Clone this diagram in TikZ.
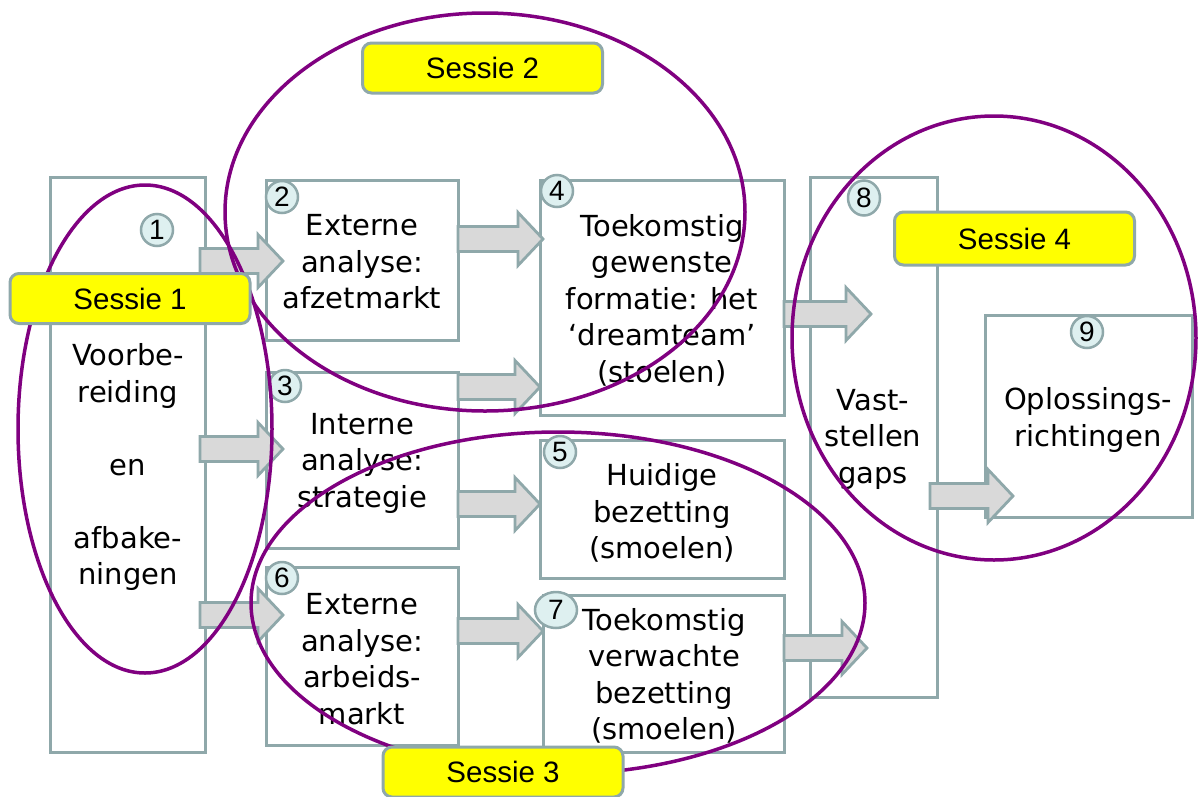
\documentclass[tikz,border=0pt]{standalone}
\usepackage{fontspec}
\setmainfont{DejaVu Sans}
\newfontfamily\arialfont{Liberation Sans}
\usetikzlibrary{calc,shapes.geometric}
\definecolor{bord}{HTML}{8FA8AA}
\definecolor{numfill}{HTML}{DEF0F0}
\definecolor{arrfill}{HTML}{D9D9D9}
\definecolor{sesyellow}{HTML}{FFFF00}
\definecolor{ringpurple}{HTML}{800080}
\newcommand\barrow[2]{%
  \draw[blockarr] ($(#1)+(0,-12.5)$) -- ($(#2)+(-25,-12.5)$) -- ($(#2)+(-25,-26.5)$)
    -- (#2) -- ($(#2)+(-25,26.5)$) -- ($(#2)+(-25,12.5)$) -- ($(#1)+(0,12.5)$) -- cycle;}
\begin{document}
\begin{tikzpicture}[x=1pt,y=-1pt,
  box/.style={draw=bord,line width=3pt,fill=white,anchor=north west,inner sep=0pt,outer sep=0pt},
  txt/.style={align=center,font=\fontsize{29}{36.5}\selectfont,inner sep=0pt},
  numc/.style={circle,draw=bord,line width=2.5pt,fill=numfill,inner sep=0pt,minimum size=32pt,font=\arialfont\fontsize{28}{28}\selectfont},
  sess/.style={rectangle,rounded corners=9pt,draw=bord,line width=3pt,fill=sesyellow,minimum width=240pt,minimum height=50pt,inner sep=0pt,font=\arialfont\fontsize{29.5}{29.5}\selectfont},
  ring/.style={draw=ringpurple,line width=3.5pt},
  blockarr/.style={draw=bord,line width=2.8pt,fill=arrfill,line join=miter},
]
\useasboundingbox (0,0) rectangle (1203,796);
\fill[white] (0,0) rectangle (1203,796);
% boxes
\node[box,minimum width=155pt,minimum height=575pt] (b1) at (50,177) {};
\node[box,minimum width=192pt,minimum height=160pt] (b2) at (266,180) {};
\node[box,minimum width=192pt,minimum height=176pt] (b3) at (266,372) {};
\node[box,minimum width=192pt,minimum height=178pt] (b6) at (266,567) {};
\node[box,minimum width=244pt,minimum height=235pt] (b4) at (540,180) {};
\node[box,minimum width=244pt,minimum height=138pt] (b5) at (540,440) {};
\node[box,minimum width=241pt,minimum height=157pt] (b7) at (543,595) {};
\node[box,minimum width=127pt,minimum height=520pt] (b8) at (810,177) {};
\node[box,minimum width=207pt,minimum height=202pt] (b9) at (985,315) {};
% texts
\node[txt] (t1) at (128,467) {Voorbe-\\reiding\\[36.5pt]en\\[36.5pt]afbake-\\ningen};
\node[txt] (t2) at (362,262) {Externe\\analyse:\\afzetmarkt};
\node[txt] (t3) at (362,463) {Interne\\analyse:\\strategie};
\node[txt] (t6) at (362,659) {Externe\\analyse:\\arbeids-\\markt};
\node[txt] (t4) at (662,300) {Toekomstig\\gewenste\\formatie: het\\‘dreamteam’\\(stoelen)};
\node[txt] (t5) at (662,513) {Huidige\\bezetting\\(smoelen)};
\node[txt] (t7) at (664,676) {Toekomstig\\verwachte\\bezetting\\(smoelen)};
\node[txt] (t8) at (873,439) {Vast-\\stellen\\gaps};
\node[txt] (t9) at (1088,420) {Oplossings-\\richtingen};
% arrow end points
\coordinate (a1s) at ($(b1.east |- 0,261)+(-5,0)$);
\coordinate (a1e) at ($(b2.west |- 0,261)+(17,0)$);
\coordinate (a2s) at ($(b1.east |- 0,449)+(-5,0)$);
\coordinate (a2e) at ($(b3.west |- 0,449)+(17,0)$);
\coordinate (a3s) at ($(b1.east |- 0,615)+(-5,0)$);
\coordinate (a3e) at ($(b6.west |- 0,615)+(17,0)$);
\coordinate (a4s) at (b2.east |- 0,239);
\coordinate (a4e) at ($(b4.west |- 0,239)+(3,0)$);
\coordinate (a5s) at (b3.east |- 0,387);
\coordinate (a5e) at (b4.west |- 0,387);
\coordinate (a6s) at (b3.east |- 0,504);
\coordinate (a6e) at (b5.west |- 0,504);
\coordinate (a7s) at (b6.east |- 0,631);
\coordinate (a7e) at (b7.west |- 0,631);
\coordinate (a8s) at (b4.east |- 0,314);
\coordinate (a8e) at ($(b8.west |- 0,314)+(61,0)$);
\coordinate (a9s) at (b7.east |- 0,648);
\coordinate (a9e) at ($(b8.west |- 0,648)+(57,0)$);
\coordinate (a10s) at ($(b8.east |- 0,496)+(-7,0)$);
\coordinate (a10e) at ($(b9.west |- 0,496)+(28,0)$);
\barrow{a1s}{a1e}
\barrow{a2s}{a2e}
\barrow{a3s}{a3e}
\barrow{a4s}{a4e}
\barrow{a5s}{a5e}
\barrow{a6s}{a6e}
\barrow{a7s}{a7e}
\barrow{a8s}{a8e}
\barrow{a9s}{a9e}
\barrow{a10s}{a10e}
% number circles
\node[numc] (n1) at (157,230) {1};
\node[numc] (n2) at (282,197) {2};
\node[numc] (n3) at (285,386) {3};
\node[numc] (n4) at (557,191) {4};
\node[numc] (n5) at (560,452) {5};
\node[numc] (n6) at (282,578) {6};
\node[numc,ellipse,minimum width=42pt,minimum height=36pt] (n7) at (556,610) {7};
\node[numc,ellipse,minimum width=32pt,minimum height=35pt] (n8) at (864,198) {8};
\node[numc] (n9) at (1087,332) {9};
% session rings
\draw[ring] (145,429) ellipse [x radius=127pt, y radius=244pt];
\draw[ring] (485,212) ellipse [x radius=260pt, y radius=199pt];
\draw[ring] (558,603) ellipse [x radius=307pt, y radius=171pt];
\draw[ring] (994,338) ellipse [x radius=202pt, y radius=222pt];
% session labels
\node[sess] (s1) at (130,298.5) {Sessie 1};
\node[sess] (s2) at (482.5,68) {Sessie 2};
\node[sess] (s3) at (503,772) {Sessie 3};
\node[sess,minimum height=53pt] (s4) at (1014.5,238.5) {Sessie 4};
\end{tikzpicture}
\end{document}
